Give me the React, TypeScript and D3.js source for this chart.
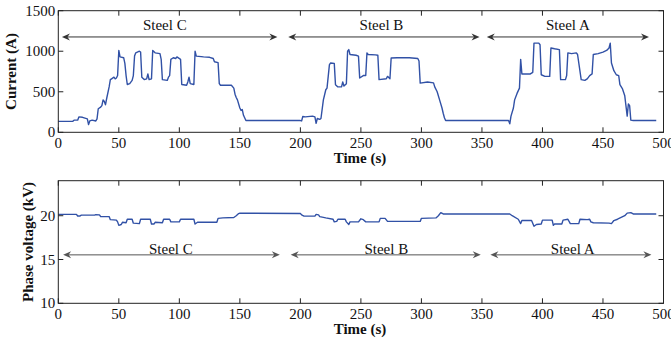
import React from "react";
import * as d3 from "d3";

const xTicks = [0, 50, 100, 150, 200, 250, 300, 350, 400, 450, 500];
const currentTicks = [0, 500, 1000, 1500];
const voltageTicks = [10, 15, 20];

const currentData: [number, number][] = [
  [0, 135], [12, 135], [13, 150], [16, 150], [17, 190], [20, 185], [22, 175], [24, 165], [25, 95], [26, 140],
  [28, 150], [31, 140], [32, 165], [33, 290], [35, 310], [36, 330], [37, 400], [38, 380], [39, 340], [40, 420],
  [42, 560], [43, 650], [44, 660], [46, 680], [47, 660], [48, 670], [49, 700], [50, 1010], [51, 930], [54, 920],
  [55, 850], [56, 700], [57, 590], [59, 600], [61, 640], [62, 700], [63, 940], [64, 980], [67, 1000], [68, 990],
  [69, 680], [71, 650], [73, 660], [74, 720], [75, 650], [77, 660], [78, 1010], [80, 980], [84, 970], [85, 900],
  [86, 650], [90, 640], [91, 680], [92, 700], [93, 900], [95, 920], [97, 910], [98, 930], [101, 900], [102, 590],
  [106, 580], [107, 620], [108, 680], [109, 600], [112, 590], [113, 1000], [114, 940], [120, 930], [125, 925],
  [128, 910], [129, 870], [132, 860], [133, 600], [134, 580], [140, 580], [143, 580], [145, 545], [146, 470],
  [147, 430], [148, 400], [150, 300], [151, 270], [152, 280], [153, 210], [155, 145], [200, 145], [201, 140],
  [202, 195], [204, 190], [210, 200], [212, 190], [213, 110], [214, 170], [216, 160], [217, 170], [219, 400],
  [221, 525], [222, 545], [224, 835], [225, 855], [228, 850], [229, 587], [231, 560], [234, 560], [235, 620],
  [236, 570], [238, 600], [239, 1000], [240, 1020], [241, 960], [246, 950], [248, 940], [249, 670], [252, 700],
  [254, 700], [255, 980], [256, 960], [262, 955], [264, 950], [265, 650], [271, 660], [272, 690], [274, 660],
  [275, 917], [280, 920], [290, 920], [297, 910], [298, 880], [299, 607], [305, 620], [310, 610], [311, 560],
  [313, 500], [315, 400], [317, 300], [318, 235], [319, 180], [320, 145], [372, 145], [373, 105], [374, 200],
  [376, 300], [377, 400], [379, 480], [381, 545], [382, 900], [383, 720], [386, 720], [390, 720], [392, 740],
  [393, 1100], [397, 1100], [398, 1080], [399, 710], [402, 690], [406, 690], [407, 1040], [410, 1030], [414, 1020],
  [415, 650], [419, 650], [420, 700], [421, 980], [424, 970], [428, 980], [429, 960], [432, 650], [435, 640],
  [437, 660], [439, 700], [441, 720], [442, 960], [446, 970], [450, 990], [453, 1010], [455, 1040], [456, 1100],
  [457, 855], [459, 760], [461, 710], [463, 700], [464, 587], [466, 540], [468, 450], [470, 200], [471, 350],
  [472, 330], [473, 150], [475, 145], [494, 145],
];

const voltageData: [number, number][] = [
  [0, 20.15], [15, 20.15], [16, 19.97], [18, 19.97], [19, 20.07], [30, 20.07], [31, 20.12], [34, 20.1], [35, 19.9],
  [42, 19.9], [43, 19.55], [48, 19.5], [49, 19.3], [50, 18.9], [52, 19.0], [53, 19.25], [56, 19.2], [57, 19.6],
  [61, 19.6], [62, 19.15], [67, 19.1], [68, 19.6], [76, 19.6], [77, 19.05], [79, 19.05], [80, 19.25], [86, 19.2],
  [87, 19.6], [92, 19.6], [93, 19.3], [100, 19.3], [101, 19.6], [112, 19.6], [113, 19.05], [115, 19.25],
  [131, 19.25], [132, 19.7], [136, 19.75], [145, 19.8], [147, 20.0], [149, 20.25], [150, 20.3], [200, 20.25],
  [201, 20.1], [203, 19.95], [212, 19.95], [213, 20.15], [215, 20.1], [216, 19.9], [221, 19.75], [227, 19.6],
  [228, 19.3], [230, 19.35], [231, 19.6], [237, 19.6], [238, 19.3], [240, 19.0], [241, 19.3], [248, 19.3],
  [250, 19.65], [252, 19.55], [254, 19.3], [265, 19.3], [266, 19.7], [270, 19.7], [272, 19.35], [299, 19.35],
  [300, 19.7], [312, 19.75], [314, 20.0], [316, 20.35], [318, 20.2], [320, 20.2], [373, 20.2], [375, 20.0],
  [380, 19.6], [382, 19.1], [383, 19.45], [391, 19.45], [393, 18.8], [395, 19.0], [399, 19.05], [400, 19.5],
  [408, 19.5], [409, 18.9], [410, 19.05], [416, 19.05], [417, 19.5], [421, 19.6], [423, 19.1], [430, 19.1],
  [431, 19.6], [437, 19.55], [439, 19.6], [440, 19.3], [442, 19.2], [455, 19.15], [457, 19.1], [459, 19.45],
  [462, 19.6], [465, 19.8], [468, 20.0], [470, 20.3], [473, 20.35], [475, 20.2], [494, 20.2],
];

const steelLabels = ["Steel C", "Steel B", "Steel A"];
// [start, end, labelCenter] in seconds
const topSpans: [number, number, number][] = [[3, 181, 88], [190, 348, 267], [354, 488, 421]];
const botSpans: [number, number, number][] = [[4, 183, 93], [192, 349, 271], [357, 490, 425]];
const topArrowLevel = 1176;
const topLabelLevel = 1263;
const botArrowLevel = 15.53;
const botLabelLevel = 15.6;

const FONT = "'Liberation Serif', 'Times New Roman', serif";
const LINE = "#3151a6";

function Arrow({ x1, x2, y, color }: { x1: number; x2: number; y: number; color: string }) {
  const L = 8, W = 3.5, N = 5.5;
  return (
    <g>
      <line x1={x1 + 3} x2={x2 - 3} y1={y} y2={y} stroke={color} strokeWidth={1} />
      <path d={`M${x1},${y} L${x1 + L},${y - W} L${x1 + N},${y} L${x1 + L},${y + W} Z`} fill={color} />
      <path d={`M${x2},${y} L${x2 - L},${y - W} L${x2 - N},${y} L${x2 - L},${y + W} Z`} fill={color} />
    </g>
  );
}

function Panel(props: {
  top: number; bottom: number; yDomain: [number, number]; yTicks: number[]; data: [number, number][];
  ylabel: string; ylabelX: number; spans: [number, number, number][]; arrowLevel: number; labelLevel: number;
  arrowColor: string; timeBaseline: number;
}) {
  const { top, bottom, yDomain, yTicks, data, ylabel, ylabelX, spans, arrowLevel, labelLevel, arrowColor, timeBaseline } = props;
  const x = d3.scaleLinear().domain([0, 500]).range([58.3, 663.5]);
  const y = d3.scaleLinear().domain(yDomain).range([bottom, top]);
  const line = d3.line<[number, number]>().x((d) => x(d[0])).y((d) => y(d[1]));
  const left = x(0), right = x(500);
  const tk = 5;
  return (
    <g>
      <path d={line(data) || ""} fill="none" stroke={LINE} strokeWidth={1.4} strokeLinejoin="round" />
      {spans.map((s, i) => (
        <g key={i}>
          <Arrow x1={x(s[0])} x2={x(s[1])} y={y(arrowLevel)} color={arrowColor} />
          <text x={x(s[2])} y={y(labelLevel)} textAnchor="middle" fontSize={15} fontFamily={FONT} fill="#111">
            {steelLabels[i]}
          </text>
        </g>
      ))}
      <rect x={left} y={top} width={right - left} height={bottom - top} fill="none" stroke="#222" strokeWidth={1} />
      {xTicks.map((t) => (
        <g key={t}>
          <line x1={x(t)} x2={x(t)} y1={bottom} y2={bottom - tk} stroke="#222" />
          <line x1={x(t)} x2={x(t)} y1={top} y2={top + tk} stroke="#222" />
          <text x={x(t)} y={bottom + 16} textAnchor="middle" fontSize={15} fontFamily={FONT} fill="#111">
            {t}
          </text>
        </g>
      ))}
      {yTicks.map((v) => (
        <g key={v}>
          <line x1={left} x2={left + tk} y1={y(v)} y2={y(v)} stroke="#222" />
          <line x1={right} x2={right - tk} y1={y(v)} y2={y(v)} stroke="#222" />
          <text x={left - 3} y={y(v) + 5} textAnchor="end" fontSize={15} fontFamily={FONT} fill="#111">
            {v}
          </text>
        </g>
      ))}
      <text x={360} y={timeBaseline} textAnchor="middle" fontSize={15} fontWeight="bold" fontFamily={FONT} fill="#111">
        Time (s)
      </text>
      <text
        transform={`translate(${ylabelX},${(top + bottom) / 2}) rotate(-90)`}
        textAnchor="middle"
        fontSize={15}
        fontWeight="bold"
        fontFamily={FONT}
        fill="#111"
      >
        {ylabel}
      </text>
    </g>
  );
}

export default function App() {
  return (
    <svg width={671} height={339} style={{ position: "absolute", left: 0, top: 0, background: "#fff" }}>
      <Panel
        top={10.7} bottom={132.3} yDomain={[0, 1500]} yTicks={currentTicks} data={currentData}
        ylabel="Current (A)" ylabelX={16} spans={topSpans} arrowLevel={topArrowLevel} labelLevel={topLabelLevel}
        arrowColor="#333" timeBaseline={163}
      />
      <Panel
        top={180.7} bottom={303.3} yDomain={[10, 24]} yTicks={voltageTicks} data={voltageData}
        ylabel="Phase voltage (kV)" ylabelX={33} spans={botSpans} arrowLevel={botArrowLevel} labelLevel={botLabelLevel}
        arrowColor="#555" timeBaseline={334}
      />
    </svg>
  );
}
